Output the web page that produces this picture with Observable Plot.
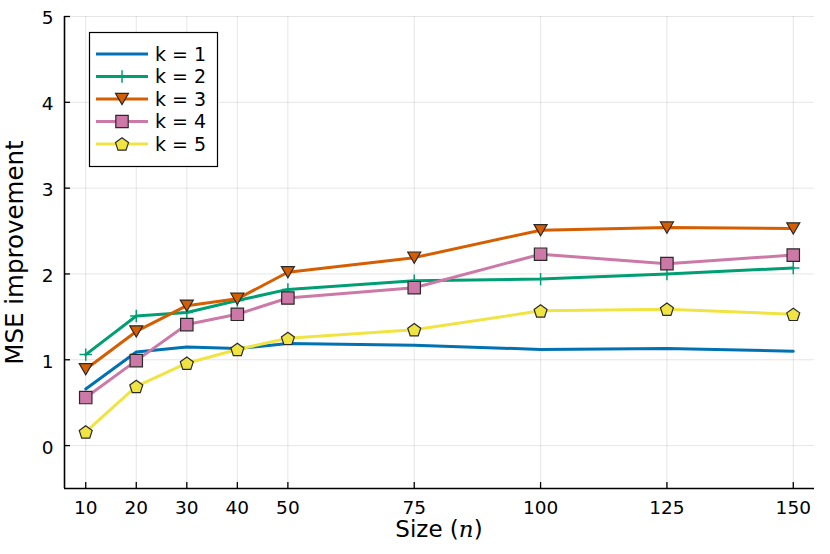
<!DOCTYPE html>
<html>
<head>
<meta charset="utf-8">
<script src="https://cdn.jsdelivr.net/npm/d3@7"></script>
<script src="https://cdn.jsdelivr.net/npm/@observablehq/plot@0.6"></script>
<style>
  html, body { margin: 0; padding: 0; background: white; }
</style>
</head>
<body>
<div id="chart"></div>
<script>
const sizes = [10, 20, 30, 40, 50, 75, 100, 125, 150];
const k1 = [0.66, 1.09, 1.15, 1.13, 1.19, 1.17, 1.12, 1.13, 1.10];
const k2 = [1.06, 1.51, 1.55, 1.69, 1.82, 1.92, 1.94, 2.00, 2.07];
const k3 = [0.89, 1.33, 1.63, 1.71, 2.02, 2.19, 2.51, 2.54, 2.53];
const k4 = [0.56, 0.99, 1.41, 1.53, 1.72, 1.84, 2.23, 2.12, 2.22];
const k5 = [0.16, 0.69, 0.96, 1.12, 1.25, 1.35, 1.57, 1.59, 1.53];
const seriesNames = ["k = 1", "k = 2", "k = 3", "k = 4", "k = 5"];
const seriesColors = ["#0072B2", "#009E73", "#D55E00", "#CC79A7", "#F0E442"];
const xTicks = [10, 20, 30, 40, 50, 75, 100, 125, 150];
const yTicks = [0, 1, 2, 3, 4, 5];
const xDomain = [5.8, 154.2];
const yDomain = [-0.5, 5];

const allSeries = [k1, k2, k3, k4, k5];

// custom symbols
const triDown = {draw(ctx, size) {
  const s = Math.sqrt(size) * 1.05, h = s * 0.866;
  ctx.moveTo(-s / 2, -h / 2); ctx.lineTo(s / 2, -h / 2); ctx.lineTo(0, h / 2); ctx.closePath();
}};
const pentagon = {draw(ctx, size) {
  const R = Math.sqrt(size) * 0.55;
  for (let i = 0; i < 5; i++) {
    const a = -Math.PI / 2 + i * 2 * Math.PI / 5;
    const px = R * Math.cos(a), py = R * Math.sin(a) + R * 0.1;
    if (i === 0) ctx.moveTo(px, py); else ctx.lineTo(px, py);
  }
  ctx.closePath();
}};
const plusSym = {draw(ctx, size) {
  const r = Math.sqrt(size) * 0.5;
  ctx.moveTo(-r, 0); ctx.lineTo(r, 0); ctx.moveTo(0, -r); ctx.lineTo(0, r);
}};
const squareSym = {draw(ctx, size) {
  const s = Math.sqrt(size) / 2;
  ctx.rect(-s, -s, 2 * s, 2 * s);
}};
const symbols = [null, plusSym, triDown, squareSym, pentagon];

const rows = [];
allSeries.forEach((vals, i) => vals.forEach((v, j) => rows.push({x: sizes[j], y: v, k: seriesNames[i], i})));

const W = 830, H = 554, mL = 64, mR = 16, mT = 16, mB = 66;
const R = 7;

const marks = [
  Plot.gridX(xTicks, {stroke: "#000", strokeOpacity: 0.1, strokeWidth: 1}),
  Plot.gridY(yTicks, {stroke: "#000", strokeOpacity: 0.1, strokeWidth: 1}),
  Plot.axisX(xTicks, {tickSize: 0, tickPadding: 12, label: null, fontSize: 18.5, tickFormat: d3.format("d")}),
  Plot.axisY(yTicks, {tickSize: 0, tickPadding: 11, dy: 2, label: null, fontSize: 18.5, tickFormat: d3.format("d")}),
  Plot.tickX(xTicks, {x: d => d, insetTop: (H - mT - mB) - 6, stroke: "black", strokeWidth: 1.3}),
  Plot.tickY(yTicks, {y: d => d, insetRight: (W - mL - mR) - 6, stroke: "black", strokeWidth: 1.3}),
  Plot.ruleX([xDomain[0]], {stroke: "black", strokeWidth: 1.6}),
  Plot.ruleY([yDomain[0]], {stroke: "black", strokeWidth: 1.6}),
];

seriesNames.forEach((name, i) => {
  const data = rows.filter(d => d.i === i);
  marks.push(Plot.line(data, {x: "x", y: "y", stroke: seriesColors[i], strokeWidth: 3}));
  if (symbols[i]) {
    if (i === 1) {
      marks.push(Plot.dot(data, {x: "x", y: "y", symbol: symbols[i], r: R, stroke: seriesColors[i], strokeWidth: 1.5, fill: "none"}));
    } else {
      marks.push(Plot.dot(data, {x: "x", y: "y", symbol: symbols[i], r: R, stroke: "#2a2a2a", strokeWidth: 1.2, fill: seriesColors[i]}));
    }
  }
});

marks.push(Plot.text(["MSE improvement"], {frameAnchor: "left", textAnchor: "middle", dx: -49, rotate: -90, fontSize: 24.5, fill: "black"}));

const chart = Plot.plot({
  width: W, height: H,
  marginLeft: mL, marginRight: mR, marginTop: mT, marginBottom: mB,
  x: {domain: xDomain},
  y: {domain: yDomain},
  style: {fontFamily: "DejaVu Sans", fontSize: "18px", background: "white", color: "black", overflow: "visible"},
  marks
});

const svg = d3.select(chart);

// x label with italic n
const xl = svg.append("text")
  .attr("x", (mL + W - mR) / 2).attr("y", 537)
  .attr("text-anchor", "middle")
  .attr("font-family", "DejaVu Sans").attr("font-size", 23).attr("fill", "black");
xl.append("tspan").text("Size (");
xl.append("tspan").attr("font-family", "DejaVu Serif").attr("font-style", "italic").text("n");
xl.append("tspan").text(")");

// legend
const lg = svg.append("g").attr("text-anchor", "start");
lg.append("rect").attr("x", 89.5).attr("y", 32.5).attr("width", 128).attr("height", 134)
  .attr("fill", "white").attr("stroke", "black").attr("stroke-width", 1.2);
seriesNames.forEach((name, i) => {
  const yy = 54 + i * 22.5;
  lg.append("line").attr("x1", 96).attr("x2", 148).attr("y1", yy).attr("y2", yy)
    .attr("stroke", seriesColors[i]).attr("stroke-width", 3);
  if (symbols[i]) {
    const p = lg.append("path").attr("d", d3.symbol().type(symbols[i]).size(R * R * Math.PI)())
      .attr("transform", `translate(122,${yy})`);
    if (i === 1) p.attr("fill", "none").attr("stroke", seriesColors[i]).attr("stroke-width", 1.5);
    else p.attr("fill", seriesColors[i]).attr("stroke", "#2a2a2a").attr("stroke-width", 1.2);
  }
  lg.append("text").attr("x", 155).attr("y", yy).attr("dy", "0.35em").attr("text-anchor", "start")
    .attr("font-family", "DejaVu Sans").attr("font-size", 19).attr("fill", "black").text(name);
});

document.getElementById("chart").appendChild(chart);
</script>
</body>
</html>
